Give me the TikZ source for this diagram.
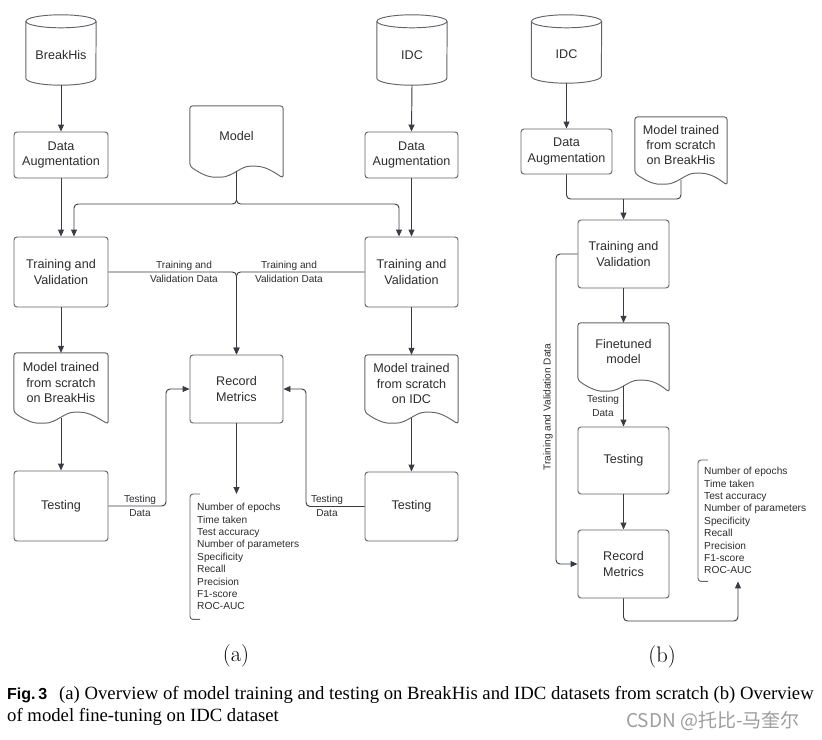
\documentclass[tikz,border=0pt]{standalone}
\usepackage{fontspec}
\newfontfamily\arialf{Liberation Sans}
\newfontfamily\timesf{Liberation Serif}
\newfontfamily\cjkf{Noto Sans CJK SC}
\usetikzlibrary{arrows.meta,calc}
\definecolor{boxc}{RGB}{100,100,108}
\definecolor{linec}{RGB}{58,60,68}
\definecolor{txtc}{RGB}{45,45,45}
\newcommand\bxf{\arialf\fontsize{12.6}{15.3}\selectfont}
\newcommand\lbf{\arialf\fontsize{10.1}{14.3}\selectfont}
\newcommand\lsf{\arialf\fontsize{10.2}{12.4}\selectfont}
\newcommand\docsh[1]{%
  \draw[shp,rounded corners=3pt] ($(#1.south east)+(0,12)$) -- (#1.north east) -- (#1.north west) -- (#1.south west)
   .. controls ($(#1.south west)+(10,7)$) and ($(#1.south west)+(18,11)$) .. ($(#1.south west)+(28,11)$)
   .. controls ($(#1.south west)+(42,11)$) and ($(#1.south west)+(51,0)$) .. ($(#1.south west)+(63,0)$)
   .. controls ($(#1.south west)+(75,0)$) and ($(#1.south west)+(83,5)$) .. ($(#1.south east)+(0,12)$) -- cycle;}
\newcommand\cylsh[1]{%
  \draw[shp] ($(#1.north west)+(0,-3.5)$) -- ($(#1.south west)+(0,-7)$)
    arc[start angle=180,end angle=360,x radius=35pt,y radius=7pt] -- ($(#1.north east)+(0,-3.5)$);
  \draw[shp] ($(#1.north)+(0,-3.5)$) ellipse[x radius=35pt,y radius=6.5pt];}
\tikzset{
  shp/.style={draw=boxc,line width=0.95pt},
  box/.style={shp,rounded corners=3pt,minimum width=93pt,minimum height=70pt,align=center,font=\bxf,text=txtc,inner sep=0pt},
  plainbox/.style={minimum width=93pt,minimum height=57pt,align=center,font=\bxf,text=txtc,inner sep=0pt},
  cylbox/.style={minimum width=70pt,minimum height=60pt,align=center,font=\bxf,text=txtc,inner sep=0pt},
  lbl/.style={align=center,font=\lbf,text=txtc,inner sep=0pt},
  listbox/.style={align=left,font=\lsf,text=txtc,inner ysep=0pt,anchor=north west},
  conn/.style={draw=linec,line width=0.95pt,rounded corners=4pt},
  arr/.style={conn,-{Triangle[width=6pt,length=7pt]}},
}
\begin{document}
\begin{tikzpicture}[x=1pt,y=-1pt]
\fill[white] (0,0) rectangle (822,739);
\useasboundingbox (0,0) rectangle (822,739);

% ---------- panel (a)
\node[cylbox] (bh) at (61,55) {BreakHis};
\cylsh{bh}
\node[cylbox] (idcA) at (412,55) {IDC};
\cylsh{idcA}
\node[box,minimum width=94pt,minimum height=46pt] (daL) at (61,155) {Data\\Augmentation};
\node[box,minimum height=46pt] (daR) at (411.5,155) {Data\\Augmentation};
\node[plainbox,minimum height=60pt] (model) at (236.5,136) {Model};
\docsh{model}
\node[box,minimum width=94pt] (trL) at (61,272) {Training and\\Validation};
\node[box] (trR) at (411.5,272) {Training and\\Validation};
\node[box,minimum height=68pt] (rec) at (236.5,389) {Record\\Metrics};
\node[plainbox,minimum width=94pt,minimum height=59pt] (mbh) at (61,382.5) {Model trained\\from scratch\\on BreakHis};
\docsh{mbh}
\node[plainbox,minimum height=57pt] (midc) at (411.5,383.5) {Model trained\\from scratch\\on IDC};
\docsh{midc}
\node[box,minimum width=94pt] (teL) at (61,506) {Testing};
\node[box,minimum height=69pt] (teR) at (411.5,506.5) {Testing};
\node[listbox,minimum height=125pt,inner xsep=7pt] (metA) at (190,494) {Number of epochs\\Time taken\\Test accuracy\\Number of parameters\\Specificity\\Recall\\Precision\\F1-score\\ROC-AUC};
\draw[shp,rounded corners=3pt] ($(metA.north west)+(10,0)$) -- (metA.north west) -- (metA.south west) -- ($(metA.south west)+(10,0)$);

\coordinate (mj) at (236.5,204);
\draw[arr] (bh.south) -- (daL.north);
\draw[arr] (idcA.south) -- (daR.north);
\draw[arr] (daL.south) -- (trL.north);
\draw[arr] (daR.south) -- (trR.north);
\draw[arr] ($(model.south)+(0,5)$) -- (mj) -| ($(trL.north)+(13,0)$);
\draw[arr] ($(model.south)+(0,5)$) -- (mj) -| ($(trR.north)+(-12.5,0)$);
\draw[arr] (trL.east) -| (rec.north);
\draw[arr] (trR.west) -| (rec.north);
\draw[arr] (trL.south) -- (mbh.north);
\draw[arr] (trR.south) -- (midc.north);
\draw[arr] ($(mbh.south)+(0,5.5)$) -- (teL.north);
\draw[arr] ($(midc.south)+(0,5.5)$) -- (teR.north);
\coordinate (tdL) at (166,389);
\coordinate (tdR) at (306,389);
\draw[arr] (teL.east) -| (tdL) -- (rec.west);
\draw[arr] (teR.west) -| (tdR) -- (rec.east);
\draw[arr] (rec.south) -- (rec.south |- metA.north);

\node[lbl] (tvlL) at (184,272) {Training and\\Validation Data};
\node[lbl] (tvlR) at (289,272) {Training and\\Validation Data};
\node[lbl] (tdlL) at (140,506) {Testing\\Data};
\node[lbl] (tdlR) at (327,506) {Testing\\Data};

% ---------- panel (b)
\node[cylbox,minimum width=70pt,minimum height=58pt] (idcB) at (566.5,54) {IDC};
\cylsh{idcB}
\node[box,minimum width=91pt,minimum height=45pt] (daB) at (566.5,151.5) {Data\\Augmentation};
\node[plainbox,minimum width=92pt,minimum height=56pt] (mbB) at (681,145) {Model trained\\from scratch\\on BreakHis};
\docsh{mbB}
\node[box,minimum width=91pt,minimum height=68pt] (trB) at (623.5,254) {Training and\\Validation};
\node[plainbox,minimum width=91pt,minimum height=57pt] (ftB) at (623.5,351.5) {Finetuned\\model};
\docsh{ftB}
\node[box,minimum width=91pt,minimum height=67pt] (teB) at (623.5,460.5) {Testing};
\node[box,minimum width=91pt,minimum height=68pt] (recB) at (623.5,564) {Record\\Metrics};
\node[listbox,minimum height=121pt,inner xsep=6pt] (metB) at (698,460) {Number of epochs\\Time taken\\Test accuracy\\Number of parameters\\Specificity\\Recall\\Precision\\F1-score\\ROC-AUC};
\draw[shp,rounded corners=3pt] ($(metB.north west)+(10,0)$) -- (metB.north west) -- (metB.south west) -- ($(metB.south west)+(10,0)$);

\coordinate (jb) at (623.5,199);
\coordinate (cb) at (556,564);
\coordinate (cr) at (738,621);
\draw[arr] (idcB.south) -- (daB.north);
\draw[conn] (daB.south) |- (jb);
\draw[conn] ($(mbB.south)+(0,7)$) |- (jb);
\draw[arr] (jb) -- (trB.north);
\draw[arr] (trB.west) -| (cb) -- (recB.west);
\draw[arr] (trB.south) -- (ftB.north);
\draw[arr] ($(ftB.south)+(0,5.5)$) -- (teB.north);
\draw[arr] (teB.south) -- (recB.north);
\draw[arr] (recB.south) |- (cr) -- (cr |- metB.south);

\node[lbl,rotate=90] (tvB) at (548,407) {Training and Validation Data};
\node[lbl] (tdB) at (603,406) {Testing\\Data};

% ---------- captions
\node[font=\fontsize{22.5}{26}\selectfont,inner sep=0pt] (capa) at (236,656) {(a)};
\node[font=\fontsize{22.5}{26}\selectfont,inner sep=0pt] (capb) at (662,657) {(b)};
\node[anchor=base west,inner sep=0pt,font=\arialf\bfseries\fontsize{16}{19}\selectfont] (fig) at (7,699) {Fig.\,3};
\node[anchor=base west,inner sep=0pt,font=\timesf\fontsize{18.7}{22}\selectfont] (cap1) at (59,699) {(a) Overview of model training and testing on BreakHis and IDC datasets from scratch (b) Overview};
\node[anchor=base west,inner sep=0pt,font=\timesf\fontsize{18.7}{22}\selectfont] (cap2) at (7,721) {of model fine-tuning on IDC dataset};
\node[inner sep=0pt,text=black!38,font=\cjkf\fontsize{19}{21}\selectfont] (wm) at (713,721) {CSDN @托比-马奎尔};
\end{tikzpicture}
\end{document}
